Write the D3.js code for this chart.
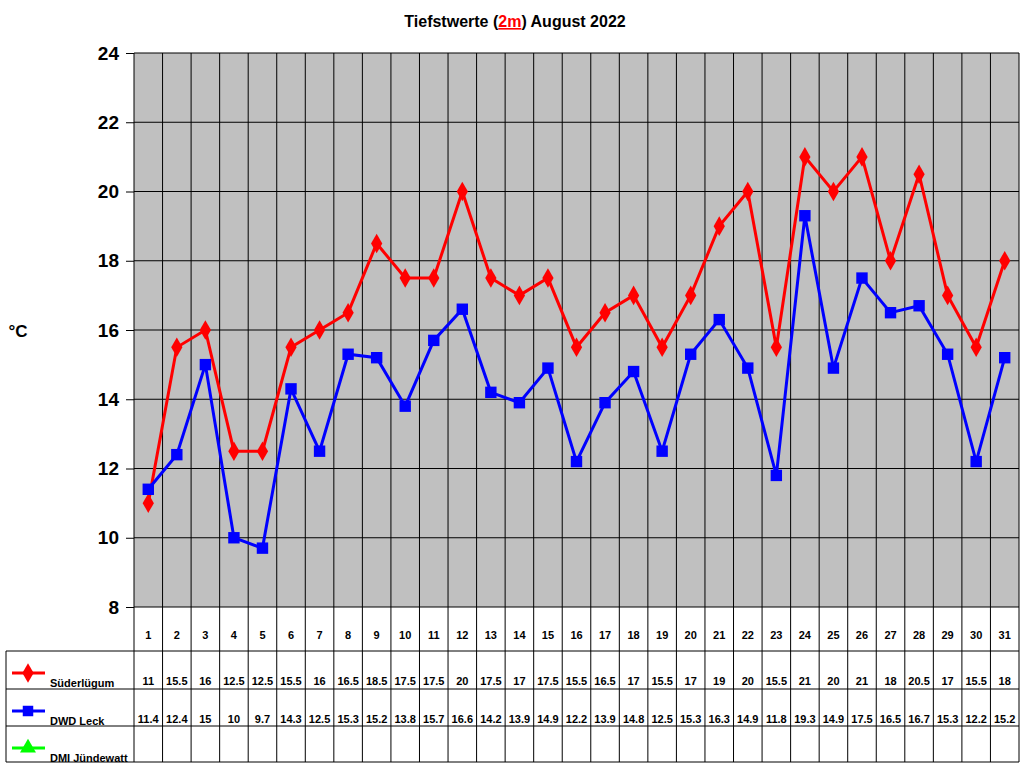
<!DOCTYPE html><html><head><meta charset="utf-8">
<script src="https://cdn.jsdelivr.net/npm/d3@7"></script>
<style>body{margin:0;background:#fff}text{font-family:Arial,"Liberation Sans",sans-serif;font-weight:bold}</style></head><body>
<svg id="c" width="1024" height="768"></svg>
<script>
const days = d3.range(1,32);
const seriesNames = ["Süderlügum","DWD Leck","DMI Jündewatt"];
const seriesColors = ["#ff0000","#0000ff","#00ff00"];
const suederluegum = [11,15.5,16,12.5,12.5,15.5,16,16.5,18.5,17.5,17.5,20,17.5,17,17.5,15.5,16.5,17,15.5,17,19,20,15.5,21,20,21,18,20.5,17,15.5,18];
const dwdLeck = [11.4,12.4,15,10,9.7,14.3,12.5,15.3,15.2,13.8,15.7,16.6,14.2,13.9,14.9,12.2,13.9,14.8,12.5,15.3,16.3,14.9,11.8,19.3,14.9,17.5,16.5,16.7,15.3,12.2,15.2];
const dmiJuendewatt = [];
const yTicks = [8,10,12,14,16,18,20,22,24];

const svg = d3.select("#c");
const L=134,R=1019,T=53,B=607;
const x = d3.scaleBand().domain(days).range([L,R]);
const y = d3.scaleLinear().domain([8,24]).range([B,T]);
svg.append("rect").attr("x",L).attr("y",T).attr("width",R-L).attr("height",B-T).attr("fill","#c0c0c0");
// grid
yTicks.forEach(t=>svg.append("line").attr("x1",L).attr("x2",R).attr("y1",y(t)).attr("y2",y(t)).attr("stroke","#000"));
const rows=[607,651,689,726,762];
days.forEach(d=>svg.append("line").attr("x1",x(d)).attr("x2",x(d)).attr("y1",T).attr("y2",762).attr("stroke","#000"));
svg.append("line").attr("x1",R).attr("x2",R).attr("y1",T).attr("y2",762).attr("stroke","#000");
rows.slice(1).forEach(r=>svg.append("line").attr("x1",6).attr("x2",R).attr("y1",r).attr("y2",r).attr("stroke","#000"));
svg.append("line").attr("x1",6).attr("x2",6).attr("y1",651).attr("y2",762).attr("stroke","#000");
// y axis
const ax = svg.append("g").attr("transform",`translate(${L},0)`).call(d3.axisLeft(y).tickValues(yTicks).tickSize(8).tickSizeOuter(0));
ax.select(".domain").remove();
ax.selectAll("line").attr("stroke","#000");
ax.selectAll("text").attr("font-size",19).attr("fill","#000").style("font-family","Arial").style("font-weight","bold").attr("dx",-4);
svg.append("text").attr("x",18).attr("y",337).attr("font-size",17).attr("text-anchor","middle").text("°C");
// title
const tt = svg.append("text").attr("x",515).attr("y",27).attr("font-size",16).attr("text-anchor","middle");
tt.append("tspan").text("Tiefstwerte (");
tt.append("tspan").attr("fill","#ff0000").attr("text-decoration","underline").text("2m");
tt.append("tspan").text(") August 2022");
// day labels
days.forEach(d=>svg.append("text").attr("x",x(d)+x.bandwidth()/2).attr("y",639).attr("font-size",11).attr("text-anchor","middle").text(d));
const data=[suederluegum,dwdLeck,dmiJuendewatt];
const cx=d=>x(d)+x.bandwidth()/2;
data.forEach((s,i)=>{
  const ry=rows[i+1];
  s.forEach((v,j)=>svg.append("text").attr("x",cx(days[j])).attr("y",ry+34).attr("font-size",11).attr("text-anchor","middle").text(v));
  // legend
  svg.append("line").attr("x1",12).attr("x2",45).attr("y1",ry+22).attr("y2",ry+22).attr("stroke",seriesColors[i]).attr("stroke-width",3);
  const sym=[d3.symbolDiamond,d3.symbolSquare,d3.symbolTriangle][i];
  svg.append("path").attr("d",d3.symbol(sym,i==0?110:110)()).attr("transform",`translate(28,${ry+22})`).attr("fill",seriesColors[i]);
  svg.append("text").attr("x",50).attr("y",ry+36).attr("font-size",11).text(seriesNames[i]);
  if(!s.length) return;
  const line=d3.line().x((v,j)=>cx(days[j])).y(v=>y(v));
  svg.append("path").attr("d",line(s)).attr("fill","none").attr("stroke",seriesColors[i]).attr("stroke-width",3);
  s.forEach((v,j)=>svg.append("path").attr("d",d3.symbol(sym,i==0?110:130)()).attr("transform",`translate(${cx(days[j])},${y(v)})`).attr("fill",seriesColors[i]));
});
</script></body></html>
